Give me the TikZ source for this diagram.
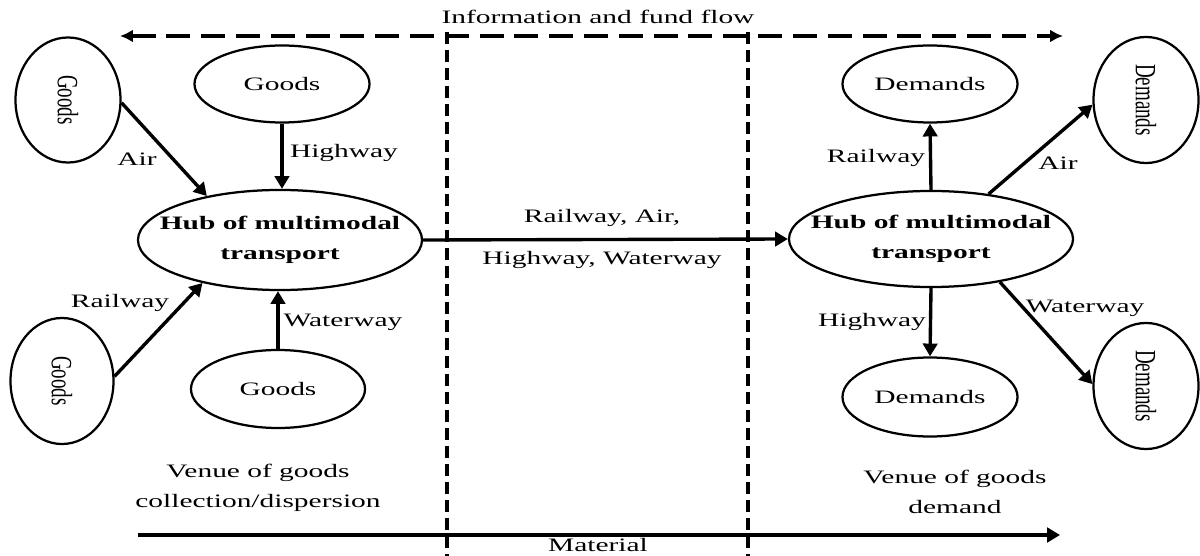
\documentclass[tikz,border=0pt]{standalone}
\usepackage{fontspec}
\setmainfont[FakeStretch=1.55]{Liberation Serif}
\newfontfamily\plainfont{Liberation Serif}
\usetikzlibrary{arrows.meta,shapes.geometric}
% upright letters turned to read downwards
\newcommand{\sidetext}[1]{\rotatebox{-90}{\scalebox{1}[1.55]{\plainfont #1}}}

\begin{document}
\begin{tikzpicture}[x=0.025cm, y=-0.025cm,
    every node/.style={font=\fontsize{13.5}{21}\selectfont},
    oval/.style={draw, ellipse, line width=1.6pt, inner sep=0pt},
    hub/.style={oval, inner xsep=-0.6cm, inner ysep=0pt, align=center},
    flow/.style={line width=2.4pt, -{Triangle[length=3.2mm,width=3.6mm]}},
    divider/.style={line width=2.6pt, dash pattern=on 0.3cm off 0.15cm}]
    \useasboundingbox (0,0) rectangle (1200,556);

    % frame lines
    \coordinate (infoL) at (120,36);
    \coordinate (infoR) at (1063,36);
    \coordinate (matL) at (138,535);
    \coordinate (matR) at (1060,535);
    \coordinate (divAtop) at (447,32);
    \coordinate (divAbot) at (447,556);
    \coordinate (divBtop) at (748,32);
    \coordinate (divBbot) at (748,556);
    \draw[line width=2.6pt, dash pattern=on 0.6cm off 0.27cm,
        {Latex[length=3.2mm,width=3.2mm]}-{Latex[length=3.2mm,width=3.2mm]}] (infoL) -- (infoR);
    \draw[line width=2.6pt, -{Triangle[length=3.2mm,width=3.6mm]}] (matL) -- (matR);
    \draw[divider] (divAtop) -- (divAbot);
    \draw[divider] (divBtop) -- (divBbot);
    \node (info) at (598,17) {Information and fund flow};
    \node (material) at (598,545) {Material};

    % collection side
    \node[hub, minimum width=7.1cm, minimum height=2.5cm] (hubL) at (280,240)
        {\textbf{Hub of multimodal}\\\textbf{transport}};
    \node[oval, minimum width=2.625cm, minimum height=3.125cm] (gLT) at (68,100) {\sidetext{Goods}};
    \node[oval, minimum width=2.575cm, minimum height=3.15cm] (gLB) at (62,381) {\sidetext{Goods}};
    \node[oval, minimum width=4.375cm, minimum height=1.925cm] (gT) at (282,84) {Goods};
    \node[oval, minimum width=4.35cm, minimum height=1.95cm] (gB) at (278,389) {Goods};
    \draw[flow] (gLT.-3) -- (hubL.149);
    \draw[flow] (gT.south) -- (gT.south |- hubL.north);
    \draw[flow] (gLB.5) -- (hubL.209);
    \draw[flow] (gB.north) -- (gB.north |- hubL.south);
    \node (airL) at (137,159) {Air};
    \node (hwL) at (344,153) {Highway};
    \node (rwL) at (120,303) {Railway};
    \node (wwL) at (343,322) {Waterway};
    \node[align=center] (venueL) at (258,488) {Venue of goods\\collection/dispersion};

    % demand side
    \node[hub, minimum width=7.1cm, minimum height=2.4cm] (hubR) at (931,239)
        {\textbf{Hub of multimodal}\\\textbf{transport}};
    \node[oval, minimum width=4.375cm, minimum height=1.925cm] (dT) at (930,84) {Demands};
    \node[oval, minimum width=4.375cm, minimum height=1.975cm] (dB) at (930,397) {Demands};
    \node[oval, minimum width=2.625cm, minimum height=3.15cm] (dRT) at (1146,100) {\sidetext{Demands}};
    \node[oval, minimum width=2.625cm, minimum height=3.15cm] (dRB) at (1146,386) {\sidetext{Demands}};
    \draw[flow] (hubR.north) -- (dT.south);
    \draw[flow] (hubR.38) -- (dRT.185);
    \draw[flow] (hubR.south) -- (dB.north);
    \draw[flow] (hubR.-32) -- (dRB.178);
    \node (rwR) at (876,158) {Railway};
    \node (airR) at (1058,163) {Air};
    \node (hwR) at (872,322) {Highway};
    \node (wwR) at (1085,308) {Waterway};
    \node[align=center] (venueR) at (955,492) {Venue of goods\\demand};

    % between the hubs
    \draw[flow] (hubL.east) -- (hubR.west);
    \node[align=center] (modes) at (602,239) {Railway, Air,\\[9pt]Highway, Waterway};
\end{tikzpicture}
\end{document}
